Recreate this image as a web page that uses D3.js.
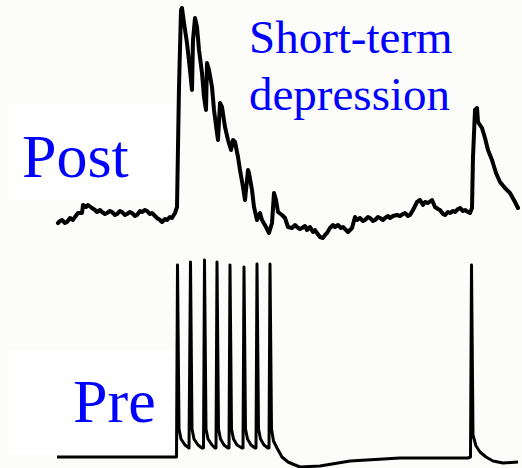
<!DOCTYPE html>
<html>
<head>
<meta charset="utf-8">
<script src="https://cdn.jsdelivr.net/npm/d3@7"></script>
<style>
  html, body { margin: 0; padding: 0; background: #fcfcfa; }
  svg { display: block; }
</style>
</head>
<body>
<div class="chart"></div>
<script>
// time in ms, membrane values relative to resting level
const postTime = [1, 3, 5, 8, 10, 13, 16, 18, 21, 25, 26, 29, 31, 35, 38, 40, 43, 45, 48, 50, 53, 55, 58, 60, 63, 65, 68, 70,
  73, 75, 78, 80, 83, 85, 88, 90, 93, 95, 98, 100, 103, 105, 108, 110, 113, 115, 118,
  120, 122, 124, 125, 127, 130, 133, 135, 136, 138, 140, 142, 145, 147, 149, 150, 152, 155, 157, 160, 161, 163, 165, 168, 171,
  174, 176, 178, 181, 183, 186, 188, 191, 192, 195, 197, 200, 203, 205, 209, 212, 215, 217, 219, 221, 225, 228, 231, 235, 238,
  240, 243, 245, 248, 250, 253, 256, 258, 260, 263, 266, 268, 270, 273, 276, 278, 281, 284, 286, 289, 291, 295, 298, 300, 303,
  306, 308, 311, 313, 316, 318, 321, 323, 326, 328, 331, 333, 336, 340, 343, 346, 348, 351, 353, 356, 360, 363, 366, 368, 371,
  375, 378, 381, 383, 386, 388, 391, 393, 396, 398, 401, 403, 406, 408, 411, 413, 415, 416, 418, 420, 421, 425, 428, 431, 435,
  439, 443, 448, 453, 458, 461];
const postValue = [-8, -6, -5, -8, -7, -3, -5, -2, 2, 2, 10, 8, 10, 7, 5, 3, 5, 3, 1, 2, 4, 3, 0, 1, 4, 3, 0, 1,
  3, 2, -1, 0, 4, 3, 5, 4, 1, 2, -1, -3, -5, -7, -4, -5, -2, -3, 2,
  8, 128, 205, 207, 192, 172, 145, 125, 175, 197, 188, 165, 142, 118, 105, 152, 145, 128, 105, 82, 75, 112, 108, 88, 75,
  65, 75, 73, 58, 45, 28, 15, 45, 42, 25, 8, -5, 2, -5, -12, -18, -8, 22, 15, 3, 0, -3, -12, -13, -10,
  -12, -14, -13, -11, -15, -12, -17, -15, -18, -22, -23, -20, -18, -13, -10, -12, -10, -13, -12, -15, -17, -13, -2, -5, -3,
  -6, -5, -2, -3, -6, -5, -2, -3, -5, -3, -1, -3, -1, 0, -1, 1, 2, -1, 0, 5, 13, 15, 10, 13, 12,
  15, 8, 6, 5, 1, 0, 3, 2, 4, 3, 6, 7, 4, 5, 3, 2, 7, 58, 105, 107, 93, 87, 77, 65, 55,
  42, 33, 27, 22, 13, 7];

const preTime = [0, 119.5,
  120.5, 122, 124, 128, 132,
  133.5, 135, 137, 141, 145,
  146.5, 147.5, 149, 151, 155, 158,
  159, 160, 161.5, 163.5, 167, 171,
  172, 173, 174.5, 176.5, 180, 185,
  186, 187, 188.5, 190.5, 194, 198,
  199, 200, 201.5, 203.5, 207, 211,
  212, 213, 214.5, 216.5, 220, 225, 231, 238, 243, 263, 293, 343, 411, 413.5,
  414.5, 416, 419, 423, 429, 436, 446, 461];
const preValue = [0, 0,
  192, 28, 18, 12, 9,
  195, 28, 18, 12, 9,
  9, 197, 28, 18, 12, 9,
  9, 195, 28, 18, 12, 9,
  9, 192, 28, 18, 12, 9,
  9, 190, 28, 18, 12, 9,
  9, 193, 28, 18, 12, 9,
  9, 193, 28, 16, 9, 0, -5, -8, -10, -9, -4, -1, -1, 0,
  192, 22, 11, 5, 0, -4, -6, -5];

const traceLabels = ['Post', 'Pre'];
const titleLines = ['Short-term', 'depression'];

const w = 522;
const h = 468;

const svg = d3.select('.chart')
  .append('svg')
  .attr('width', w)
  .attr('height', h);

// white patches behind the trace labels
svg.append('rect').attr('x', 8).attr('y', 104).attr('width', 168).attr('height', 96).attr('fill', '#ffffff');
svg.append('rect').attr('x', 8).attr('y', 350).attr('width', 168).attr('height', 104).attr('fill', '#ffffff');

const xScale = d3.scaleLinear().domain([0, 461]).range([57, 518]);
const yPost = d3.scaleLinear().domain([0, 200]).range([215, 15]);
const yPre = d3.scaleLinear().domain([0, 200]).range([457, 257]);

const postLine = d3.line()
  .x((d) => xScale(postTime[d]))
  .y((d) => yPost(postValue[d]));

const preLine = d3.line()
  .x((d) => xScale(preTime[d]))
  .y((d) => yPre(preValue[d]));

svg.append('path')
  .datum(d3.range(postTime.length))
  .attr('d', postLine)
  .attr('fill', 'none')
  .attr('stroke', '#000')
  .attr('stroke-width', 4)
  .attr('stroke-linejoin', 'round')
  .attr('stroke-linecap', 'round');

svg.append('path')
  .datum(d3.range(preTime.length))
  .attr('d', preLine)
  .attr('fill', 'none')
  .attr('stroke', '#000')
  .attr('stroke-width', 3)
  .attr('stroke-linejoin', 'round');

const serif = '"Liberation Serif", "Times New Roman", serif';

svg.selectAll('text.trace-label')
  .data(traceLabels)
  .enter()
  .append('text')
  .attr('class', 'trace-label')
  .attr('x', (d, i) => [22, 73][i])
  .attr('y', (d, i) => [177, 422][i])
  .attr('font-family', serif)
  .attr('font-size', 62)
  .attr('fill', '#0000ff')
  .text((d) => d);

svg.selectAll('text.title')
  .data(titleLines)
  .enter()
  .append('text')
  .attr('class', 'title')
  .attr('x', 249)
  .attr('y', (d, i) => 53 + i * 57)
  .attr('font-family', serif)
  .attr('font-size', 47)
  .attr('fill', '#0000ff')
  .text((d) => d);
</script>
</body>
</html>
